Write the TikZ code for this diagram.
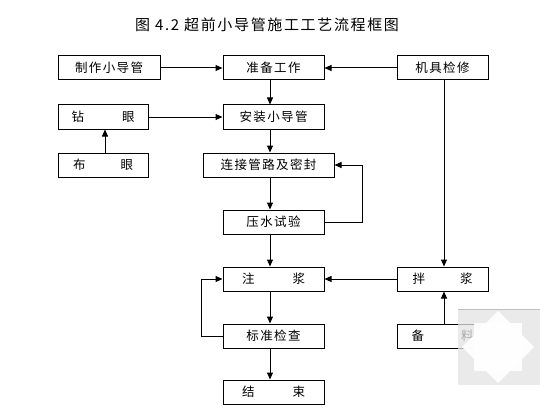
\documentclass[tikz,border=0pt]{standalone}
\usepackage{fontspec}
\newfontfamily\cjk[LetterSpace=11]{Noto Sans CJK SC}
\usetikzlibrary{arrows.meta}
\begin{document}
\begin{tikzpicture}[x=1pt,y=-1pt,
  box/.style={draw, line width=1pt, inner sep=0pt, minimum height=24pt, font=\cjk\fontsize{12.5}{13}\selectfont},
  arr/.style={line width=1pt, -{Triangle[length=7pt,width=6pt]}}]
\useasboundingbox[fill=white] (0,0) rectangle (560,420);
\node[font=\cjk\fontsize{15}{17}\selectfont] (title) at (267,25) {图 4.2 超前小导管施工工艺流程框图};
% boxes
\node[box, minimum width=102pt] (zhizuo) at (109,68) {制作小导管};
\node[box, minimum width=101pt] (zhunbei) at (273.5,68) {准备工作};
\node[box, minimum width=91pt] (jiju) at (442.5,68) {机具检修};
\node[box, minimum width=90pt] (zuan) at (103,117) {钻\hspace{38pt}眼};
\node[box, minimum width=101pt] (anz) at (273.5,117) {安装小导管};
\node[box, minimum width=90pt] (bu) at (103,165) {布\hspace{35pt}眼};
\node[box, minimum width=131pt] (lianjie) at (268.5,165) {连接管路及密封};
\node[box, minimum width=101pt] (yashui) at (273.5,222) {压水试验};
\node[box, minimum width=101pt] (zhu) at (273.5,279) {注\hspace{38pt}浆};
\node[box, minimum width=101pt] (biao) at (273.5,336) {标准检查};
\node[box, minimum width=101pt] (jie) at (273.5,392) {结\hspace{38pt}束};
\node[box, minimum width=91pt] (ban) at (442.5,279) {拌\hspace{35pt}浆};
\node[box, minimum width=91pt] (bei) at (442.5,336) {备\hspace{37pt}料};
% helper coordinates
\coordinate (cx) at (270,0);
\coordinate (rx) at (444,0);
\coordinate (bx) at (105,0);
\coordinate (lx) at (362,0);
\coordinate (wx) at (201,0);
% connectors
\draw[arr] (zhizuo.east) -- (zhunbei.west);
\draw[arr] (jiju.west) -- (zhunbei.east);
\draw[arr] (zuan.east) -- (anz.west);
\draw[arr] (bu.north -| bx) -- (zuan.south -| bx);
\draw[arr] (zhunbei.south -| cx) -- (anz.north -| cx);
\draw[arr] (anz.south -| cx) -- (lianjie.north -| cx);
\draw[arr] (lianjie.south -| cx) -- (yashui.north -| cx);
\draw[arr] (yashui.south -| cx) -- (zhu.north -| cx);
\draw[arr] (zhu.south -| cx) -- (biao.north -| cx);
\draw[arr] (biao.south -| cx) -- (jie.north -| cx);
\draw[arr] (yashui.east) -| (lx |- lianjie.east) -- (lianjie.east);
\draw[arr] (biao.west) -| (wx |- zhu.west) -- (zhu.west);
\draw[arr] (jiju.south -| rx) -- (ban.north -| rx);
\draw[arr] (bei.north -| rx) -- (ban.south -| rx);
\draw[arr] (ban.west) -- (zhu.east);
% watermark
\fill[gray!22, opacity=0.75] (458,309) rectangle (540,385);
\draw[gray!50, line width=0.6pt] (458,309) -- (540,309);
\fill[white, opacity=0.95] (498,311) -- (534,347) -- (498,383) -- (462,347) -- cycle;
\fill[white, opacity=0.95] (474,323) rectangle (522,371);
\end{tikzpicture}
\end{document}
